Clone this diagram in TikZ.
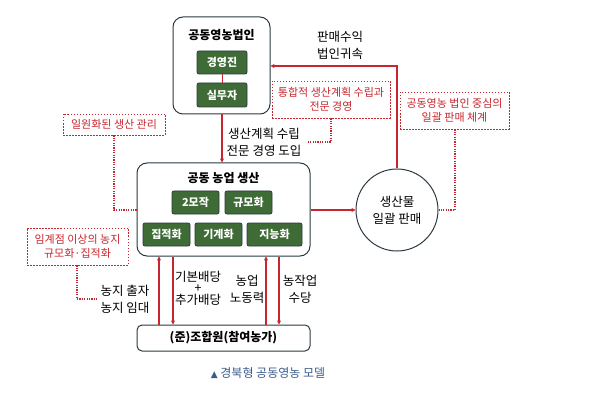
\documentclass[tikz,border=0pt]{standalone}
\usepackage{fontspec}
\setmainfont{Noto Sans CJK KR}
\newfontfamily\djv{DejaVu Sans}
\usetikzlibrary{arrows.meta}
\definecolor{gr}{HTML}{3E6B36}
\definecolor{rd}{HTML}{C8262E}
\definecolor{bx}{HTML}{2B3A42}
\definecolor{cap}{HTML}{3A5C8C}
\begin{document}
\begin{tikzpicture}[x=1pt,y=-1pt,
 big/.style={draw=bx,line width=1pt,rounded corners=10pt,fill=white},
 gb/.style={draw=bx,line width=0.8pt,fill=gr,rounded corners=2pt,text=white,font=\fontsize{11}{13}\selectfont\bfseries},
 note/.style={draw=rd,line width=0.9pt,dash pattern=on 1.5pt off 1.5pt,text=rd,font=\fontsize{11}{14}\selectfont,align=center},
 dl/.style={draw=rd,dash pattern=on 1.2pt off 1.2pt,line width=1.1pt},
 ar/.style={draw=rd,line width=1.2pt,-{Stealth[length=4pt,width=4pt]}},
 lb/.style={font=\fontsize{12.5}{17}\selectfont,align=center}]
\useasboundingbox (0,0) rectangle (600,401);
% top box
\node[big,minimum width=97pt,minimum height=97pt] (top) at (221.5,65.5) {};
\node[font=\fontsize{12}{14}\selectfont\bfseries] (toptitle) at (221.5,35) {공동영농법인};
\node[gb,minimum width=50pt,minimum height=23pt] (g1) at (222,62.5) {경영진};
\node[gb,minimum width=50pt,minimum height=24pt] (g2) at (222,95) {실무자};
\draw[rd,line width=1pt] (g1) -- (g2);
% production box
\node[big,minimum width=173pt,minimum height=93pt] (prod) at (223.5,209.5) {};
\node[font=\fontsize{12}{14}\selectfont\bfseries] (prodtitle) at (223.5,178) {공동 농업 생산};
\node[gb,minimum width=47pt,minimum height=23pt] (p1) at (195.5,202.5) {2모작};
\node[gb,minimum width=47pt,minimum height=23pt] (p2) at (248.5,202.5) {규모화};
\node[gb,minimum width=47pt,minimum height=23pt] (p3) at (166.5,234.5) {집적화};
\node[gb,minimum width=47pt,minimum height=23pt] (p4) at (218.5,234.5) {기계화};
\node[gb,minimum width=55pt,minimum height=23pt] (p5) at (274.5,234.5) {지능화};
% bottom box
\node[big,rounded corners=5pt,minimum width=173pt,minimum height=26pt,font=\fontsize{12}{14}\selectfont\bfseries] (bot) at (223.5,338) {(준)조합원(참여농가)};
% circle
\node[draw=bx,line width=1pt,circle,minimum size=82pt,lb] (sale) at (397,210) {생산물\\일괄 판매};
% arrows
\draw[ar] (top.south -| g1) -- (prod.north -| g1);
\node[lb] (l1) at (264,142) {생산계획 수립\\전문 경영 도입};
\draw[ar] (prod.east |- sale) -- (sale.west);
\coordinate (c1) at (397,66);
\draw[ar] (sale.north) -- (c1) -- (top.east |- c1);
\node[lb] (l2) at (340,45) {판매수익\\법인귀속};
\coordinate (xa) at (159,0); \coordinate (xb) at (173,0);
\coordinate (xc) at (266,0); \coordinate (xd) at (279,0);
\draw[ar] (bot.north -| xa) -- (prod.south -| xa);
\draw[ar] (prod.south -| xb) -- (bot.north -| xb);
\draw[ar] (bot.north -| xc) -- (prod.south -| xc);
\draw[ar] (prod.south -| xd) -- (bot.north -| xd);
\node[lb] (l3) at (125,299) {농지 출자\\농지 임대};
\node[lb,font=\fontsize{12.5}{11.5}\selectfont] (l4) at (198,288) {기본배당\\+\\추가배당};
\node[lb] (l5) at (247,289) {농업\\노동력};
\node[lb] (l6) at (300,289) {농작업\\수당};
% notes
\node[note,minimum width=118pt,minimum height=37pt] (n1) at (331,99.5) {통합적 생산계획 수립과\\전문 경영};
\coordinate (n1a) at (331,142);
\draw[dl] (n1.south) -- (n1a) -- (307,142);
\node[note,minimum width=109pt,minimum height=37pt] (n2) at (454.5,110.5) {공동영농 법인 중심의\\일괄 판매 체계};
\coordinate (n2a) at (455,210);
\draw[dl] (n2.south -| n2a) -- (n2a) -- (sale.east);
\node[note,minimum width=102pt,minimum height=21pt] (n3) at (114,124.5) {일원화된 생산 관리};
\coordinate (n3a) at (114,210);
\draw[dl] (n3.south) -- (n3a) -- (prod.west |- n3a);
\node[note,minimum width=101pt,minimum height=37pt] (n4) at (77.5,246.5) {임계점 이상의 농지\\규모화·집적화};
\coordinate (n4a) at (77,299);
\draw[dl] (n4.south -| n4a) -- (n4a) -- (97,299);
% caption
\node[text=cap,font=\fontsize{12}{14}\selectfont] (cap) at (268,373) {{\djv\fontsize{9}{10}\selectfont ▲} 경북형 공동영농 모델};
\end{tikzpicture}
\end{document}
